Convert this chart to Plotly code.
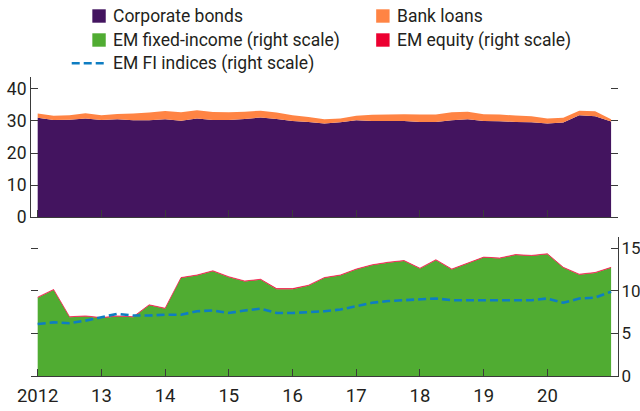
import plotly.graph_objects as go

# Quarterly observations, 2012:Q1 - 2021:Q1
quarters = [2012 + q / 4 for q in range(37)]

corporate_bonds = [31.0, 30.3, 30.4, 30.8, 30.3, 30.5, 30.2, 30.2, 30.5, 30.1, 30.8, 30.3,
                   30.3, 30.6, 31.1, 30.6, 30.0, 29.7, 29.2, 29.6, 30.2, 30.0, 30.0, 30.0,
                   29.7, 29.7, 30.2, 30.5, 30.0, 29.9, 29.7, 29.6, 29.2, 29.5, 31.8, 31.5, 29.8]
bank_loans = [1.3, 1.3, 1.4, 1.6, 1.5, 1.7, 2.1, 2.4, 2.6, 2.6, 2.5, 2.5,
              2.4, 2.3, 2.1, 2.0, 1.8, 1.5, 1.3, 1.2, 1.4, 1.9, 2.0, 2.1,
              2.3, 2.3, 2.5, 2.4, 2.1, 2.1, 2.0, 1.9, 1.6, 1.5, 1.4, 1.5, 0.7]
em_fixed_income = [9.2, 10.1, 6.9, 7.0, 6.8, 7.0, 6.9, 8.3, 7.9, 11.5, 11.8, 12.3,
                   11.6, 11.1, 11.3, 10.2, 10.2, 10.6, 11.5, 11.8, 12.5, 13.0, 13.3, 13.5,
                   12.6, 13.6, 12.5, 13.2, 13.9, 13.8, 14.2, 14.1, 14.3, 12.7, 11.9, 12.1, 12.7]
em_equity = [0.06, 0.06, 0.06, 0.06, 0.06, 0.06, 0.06, 0.06, 0.06, 0.06, 0.06, 0.06,
             0.06, 0.06, 0.06, 0.06, 0.06, 0.06, 0.06, 0.06, 0.06, 0.06, 0.06, 0.06,
             0.06, 0.06, 0.06, 0.06, 0.06, 0.06, 0.06, 0.06, 0.06, 0.06, 0.06, 0.06, 0.06]
em_fi_indices = [6.1, 6.3, 6.2, 6.5, 6.9, 7.3, 7.1, 7.1, 7.2, 7.2, 7.6, 7.7,
                 7.4, 7.7, 7.9, 7.4, 7.4, 7.5, 7.6, 7.8, 8.2, 8.6, 8.8, 8.9,
                 9.0, 9.1, 8.9, 8.9, 8.9, 8.9, 8.9, 8.9, 9.1, 8.6, 9.1, 9.2, 9.9]

year_ticks = [2012, 2013, 2014, 2015, 2016, 2017, 2018, 2019, 2020]
year_labels = ["2012", "13", "14", "15", "16", "17", "18", "19", "20"]
left_ticks = [0, 10, 20, 30, 40]
right_ticks = [0, 5, 10, 15]

legend_names = ["Corporate bonds", "Bank loans", "EM fixed-income (right scale)",
                "EM equity (right scale)", "EM FI indices (right scale)"]

PURPLE = "#43145F"
ORANGE = "#FF8444"
GREEN = "#50AC32"
RED = "#EC0030"
BLUE = "#0E7DC2"
INK = "#231F20"
AXIS = "#3a3a3a"
FONT = "Roboto, sans-serif"

W, H = 640, 411
ML, MR, MT, MB = 31, 22.3, 77, 35
PW, PH = W - ML - MR, H - MT - MB


def px_x(page_px):
    return (page_px - ML) / PW


def px_y(page_py):
    return (H - MB - page_py) / PH


fig = go.Figure()

# top panel: stacked areas (left scale)
fig.add_trace(go.Scatter(x=quarters, y=corporate_bonds, stackgroup="top", mode="none",
                         fillcolor=PURPLE, name=legend_names[0], hoverinfo="skip",
                         xaxis="x", yaxis="y"))
fig.add_trace(go.Scatter(x=quarters, y=bank_loans, stackgroup="top", mode="none",
                         fillcolor=ORANGE, name=legend_names[1], hoverinfo="skip",
                         xaxis="x", yaxis="y"))
fig.add_trace(go.Scatter(x=quarters, y=corporate_bonds, mode="none", showlegend=False,
                         hoverinfo="skip", xaxis="x", yaxis="y3"))

# bottom panel (right scale)
fig.add_trace(go.Scatter(x=quarters, y=em_fixed_income, stackgroup="bot", mode="none",
                         fillcolor=GREEN, name=legend_names[2], hoverinfo="skip",
                         xaxis="x2", yaxis="y2"))
fig.add_trace(go.Scatter(x=quarters, y=em_equity, stackgroup="bot", mode="lines",
                         line=dict(color=RED, width=0.6), fillcolor=RED,
                         name=legend_names[3], hoverinfo="skip", xaxis="x2", yaxis="y2"))
fig.add_trace(go.Scatter(x=quarters, y=em_fi_indices, mode="lines",
                         line=dict(color=BLUE, width=2.6, dash="8px,4px"),
                         name=legend_names[4], xaxis="x2", yaxis="y2"))
fig.add_trace(go.Scatter(x=quarters, y=em_fi_indices, mode="none", showlegend=False,
                         hoverinfo="skip", xaxis="x2", yaxis="y4"))

# hand-placed legend (two columns), page-pixel positions
legend_items = [
    (legend_names[0], PURPLE, "box", 92.3, 16),
    (legend_names[1], ORANGE, "box", 376, 16),
    (legend_names[2], GREEN, "box", 92.3, 40),
    (legend_names[3], RED, "box", 376, 40),
    (legend_names[4], BLUE, "dash", 92.3, 63.3),
]
shapes = []
annotations = []
for name, col, kind, sx, cy in legend_items:
    if kind == "box":
        shapes.append(dict(type="rect", xref="paper", yref="paper",
                           x0=px_x(sx), x1=px_x(sx + 13.4), y0=px_y(cy + 6.7), y1=px_y(cy - 6.7),
                           fillcolor=col, line=dict(width=0)))
    else:
        shapes.append(dict(type="line", xref="paper", yref="paper",
                           x0=px_x(71.7), x1=px_x(105.7), y0=px_y(cy), y1=px_y(cy),
                           line=dict(color=col, width=2.6, dash="8px,4px")))
    annotations.append(dict(text=name, xref="paper", yref="paper", x=px_x(sx + 19), y=px_y(cy),
                            xanchor="left", yanchor="middle", showarrow=False,
                            font=dict(family=FONT, size=17.5, color=INK)))

xr = [2011.895, 2021.1085]
common_x = dict(range=xr, tickvals=year_ticks, ticks="inside", ticklen=7, tickwidth=1,
                tickcolor=AXIS, showline=True, linecolor=AXIS, linewidth=1,
                showgrid=False, zeroline=False, automargin=False)
common_y = dict(ticks="inside", ticklen=7, tickwidth=1, tickcolor=AXIS,
                showgrid=False, zeroline=False, automargin=False)

fig.update_layout(
    width=W, height=H,
    margin=dict(l=ML, r=MR, t=MT, b=MB, autoexpand=False),
    paper_bgcolor="white", plot_bgcolor="white",
    font=dict(family=FONT, size=18, color=INK),
    showlegend=False,
    xaxis=dict(domain=[0, 1], anchor="y", showticklabels=False, **common_x),
    xaxis2=dict(domain=[0, 1], anchor="y2", ticktext=year_labels, showticklabels=True,
                ticklabelstandoff=3, tickfont=dict(family=FONT, size=18.5, color=INK), **common_x),
    yaxis=dict(domain=[0.531, 1], anchor="x", range=[0, 43.7], tickvals=left_ticks,
               showline=True, linecolor=AXIS, linewidth=1,
               tickfont=dict(family=FONT, size=17.5, color=INK), **common_y),
    yaxis3=dict(overlaying="y", side="right", anchor="x", range=[0, 43.7], tickvals=left_ticks,
                showticklabels=False, showline=False, **common_y),
    yaxis2=dict(domain=[0, 0.466], anchor="x2", side="right", range=[0, 16.36], tickvals=right_ticks,
                showline=True, linecolor=AXIS, linewidth=1, ticklabelstandoff=-1,
                tickfont=dict(family=FONT, size=17, color=INK), **common_y),
    yaxis4=dict(overlaying="y2", side="left", anchor="x2", range=[0, 16.36], tickvals=right_ticks,
                showticklabels=False, showline=False, **common_y),
    shapes=shapes,
    annotations=annotations,
)

fig.write_html("out.html", config={"displayModeBar": False, "staticPlot": True},
               post_script="document.body.style.margin='0px';")
